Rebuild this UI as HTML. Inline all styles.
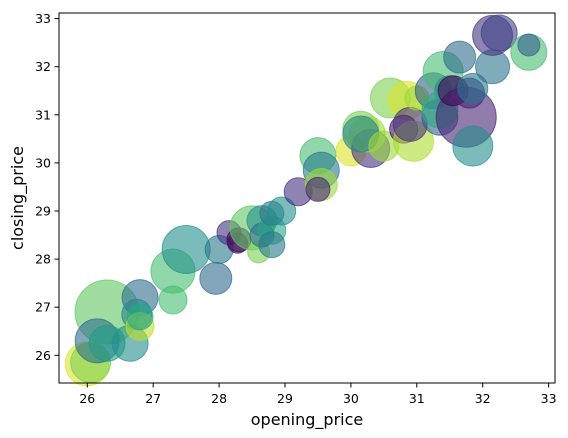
<!DOCTYPE html>
<html><head><meta charset="utf-8"><style>
body{margin:0;background:#fff;}
svg{display:block;font-family:"DejaVu Sans","Liberation Sans",sans-serif;}
</style></head><body>
<svg id="chart" width="568" height="438" viewBox="0 0 568 438" xmlns="http://www.w3.org/2000/svg">
<g id="marks"></g>
<rect x="59" y="13" width="496" height="370" fill="none" stroke="#000" stroke-width="1"/>
<g id="axes"></g>
<text x="307" y="425" font-size="16" text-anchor="middle">opening_price</text>
<text transform="translate(23,198) rotate(-90)" font-size="16" text-anchor="middle">closing_price</text>
</svg>
<script>
const openPrice=[26.0,26.05,26.3,26.15,26.3,26.65,26.8,26.75,26.8,26.8,27.3,27.3,27.5,27.95,28.0,28.15,28.3,28.28,28.5,28.6,28.65,28.65,28.8,28.8,28.8,28.95,29.2,29.5,29.55,29.55,29.5,30.0,30.15,30.3,30.25,30.15,30.5,30.6,30.85,30.8,30.95,30.9,31.0,31.25,31.35,31.4,31.65,31.5,31.35,31.75,31.85,31.55,31.8,31.85,32.15,32.15,32.25,32.7,32.7];
const closePrice=[25.82,25.85,26.9,26.3,26.25,26.25,27.2,26.85,26.6,26.8,27.75,27.15,28.2,27.6,28.2,28.55,28.4,28.33,28.65,28.15,28.8,28.5,28.6,28.3,28.95,29.0,29.4,30.15,29.85,29.55,29.45,30.25,30.7,30.3,30.6,30.6,30.35,31.35,31.3,30.7,30.45,30.8,31.35,31.5,30.95,31.9,32.2,31.5,31.1,30.95,30.35,31.5,31.45,31.55,32.0,32.65,32.7,32.3,32.45];
const sizes=[22,20,32,22,18,18,18,15,14,13,22,14,24,16,14,12,12,10,22,11,15,12,14,13,12,14,14,18,18,16,12,15,18,19,18,18,15,20,19,14,20,17,12,18,18,20,16,15,18,30,20,15,15,15,17,20,18,18,11];
const colorVals=[0.95,0.8,0.75,0.35,0.55,0.5,0.35,0.45,0.9,0.6,0.7,0.7,0.5,0.35,0.4,0.15,0.0,0.05,0.75,0.8,0.5,0.35,0.6,0.4,0.38,0.5,0.15,0.7,0.4,0.85,0.1,0.95,0.8,0.15,0.85,0.45,0.85,0.8,0.95,0.05,0.88,0.15,0.85,0.3,0.3,0.7,0.35,0.5,0.62,0.1,0.5,0.0,0.1,0.4,0.38,0.15,0.2,0.7,0.3];
const xTicks=[26,27,28,29,30,31,32,33];
const yTicks=[26,27,28,29,30,31,32,33];

const X=v=>87.3+(v-26)*65.9;
const Y=v=>355.3-(v-26)*48.1;
const NS="http://www.w3.org/2000/svg";
const stops=[[68,1,84],[72,40,120],[62,74,137],[49,104,142],[38,130,142],[31,158,137],[53,183,121],[109,205,89],[180,222,44],[253,231,37]];
function viridis(t){t=Math.max(0,Math.min(1,t))*(stops.length-1);const i=Math.min(Math.floor(t),stops.length-2),f=t-i;const c=stops[i].map((a,k)=>Math.round(a+(stops[i+1][k]-a)*f));return `rgb(${c[0]},${c[1]},${c[2]})`;}
const marks=document.getElementById('marks');
openPrice.forEach((o,i)=>{
  const c=document.createElementNS(NS,'circle');
  
  
  c.setAttribute('cx',X(o));c.setAttribute('cy',Y(closePrice[i]));c.setAttribute('r',sizes[i]);
  const col=viridis(colorVals[i]);
  c.setAttribute('fill',col);c.setAttribute('fill-opacity','0.6');
  c.setAttribute('stroke',col);c.setAttribute('stroke-opacity','0.7');
  marks.appendChild(c);
});
const axes=document.getElementById('axes');
xTicks.forEach(t=>{
  const l=document.createElementNS(NS,'line');
  
  
  l.setAttribute('x1',X(t));l.setAttribute('x2',X(t));l.setAttribute('y1',383);l.setAttribute('y2',387.5);l.setAttribute('stroke','#000');
  axes.appendChild(l);
  const tx=document.createElementNS(NS,'text');
  
  
  tx.setAttribute('x',X(t));tx.setAttribute('y',403);tx.setAttribute('font-size','12.5');tx.setAttribute('text-anchor','middle');
  tx.textContent=t;axes.appendChild(tx);
});
yTicks.forEach(t=>{
  const l=document.createElementNS(NS,'line');
  
  
  l.setAttribute('x1',54.5);l.setAttribute('x2',59);l.setAttribute('y1',Y(t));l.setAttribute('y2',Y(t));l.setAttribute('stroke','#000');
  axes.appendChild(l);
  const tx=document.createElementNS(NS,'text');
  
  
  tx.setAttribute('x',51);tx.setAttribute('y',Y(t)+4.5);tx.setAttribute('font-size','12.5');tx.setAttribute('text-anchor','end');
  tx.textContent=t;axes.appendChild(tx);
});
</script>
</body></html>
